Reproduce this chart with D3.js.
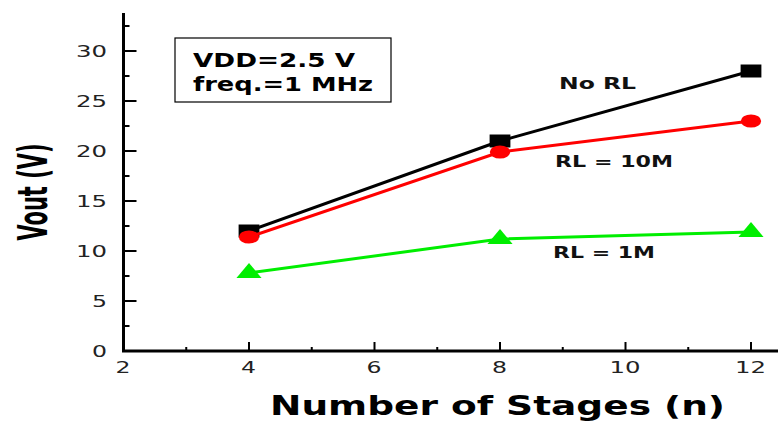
<!DOCTYPE html>
<html>
<head>
<meta charset="utf-8">
<script src="https://cdn.jsdelivr.net/npm/d3@7"></script>
<style>
  body { margin: 0; background: #fff; }
  svg { font-family: "DejaVu Sans", "Liberation Sans", sans-serif; }
</style>
</head>
<body>
<div id="chart"></div>
<script>
// data
const stages = [4, 8, 12];
const noRL = [12.0, 21.0, 28.0];
const rl10M = [11.4, 19.9, 23.0];
const rl1M = [7.8, 11.2, 11.9];
const xTicks = [2, 4, 6, 8, 10, 12];
const yTicks = [0, 5, 10, 15, 20, 25, 30];
const infoLines = ["VDD=2.5 V", "freq.=1 MHz"];

const width = 778, height = 421;
const svg = d3.select("#chart").append("svg")
    .attr("width", width).attr("height", height);

const x = d3.scaleLinear().domain([2, 12]).range([123.5, 751]);
const y = d3.scaleLinear().domain([0, 30]).range([351, 51]);

// the picture is stretched sideways, so text and marks get a wide x scale
const stretch = 1.6;

// axes
const axisG = svg.append("g");
axisG.append("line").attr("x1", x(2) - 1.5).attr("x2", 778)
    .attr("y1", y(0)).attr("y2", y(0))
    .attr("stroke", "#000").attr("stroke-width", 3);
axisG.append("line").attr("x1", x(2)).attr("x2", x(2))
    .attr("y1", y(0)).attr("y2", 13)
    .attr("stroke", "#000").attr("stroke-width", 3);

// ticks point inward
d3.range(2.5, 33, 2.5).forEach(v => {
    const major = v % 5 === 0;
    axisG.append("line").attr("x1", x(2)).attr("x2", x(2) + (major ? 13 : 6))
        .attr("y1", y(v)).attr("y2", y(v))
        .attr("stroke", "#000").attr("stroke-width", 2);
});
d3.range(3, 13, 1).forEach(v => {
    const major = v % 2 === 0;
    axisG.append("line").attr("x1", x(v)).attr("x2", x(v))
        .attr("y1", y(0)).attr("y2", y(0) - (major ? 9 : 4))
        .attr("stroke", "#000").attr("stroke-width", 2);
});

const digitW = 16;
axisG.selectAll(".ylab").data(yTicks).enter().append("text")
    .attr("x", d => 108 - String(d).length * digitW).attr("y", d => y(d) + 6)
    .attr("font-size", 15).attr("fill", "#222")
    .attr("textLength", d => String(d).length * digitW - 1)
    .attr("lengthAdjust", "spacingAndGlyphs")
    .text(d => d);
axisG.selectAll(".xlab").data(xTicks).enter().append("text")
    .attr("x", d => x(d) - String(d).length * digitW / 2).attr("y", 373)
    .attr("font-size", 15).attr("fill", "#222")
    .attr("textLength", d => String(d).length * digitW - 1)
    .attr("lengthAdjust", "spacingAndGlyphs")
    .text(d => d);

// axis titles
svg.append("text")
    .attr("transform", "translate(47,192) scale(" + stretch + ",1) rotate(-90)")
    .attr("text-anchor", "middle").attr("font-size", 26).attr("font-weight", "bold")
    .attr("textLength", 97).attr("lengthAdjust", "spacingAndGlyphs")
    .text("Vout (V)");
svg.append("text")
    .attr("x", 270).attr("y", 415)
    .attr("font-size", 26).attr("font-weight", "bold")
    .attr("textLength", 455).attr("lengthAdjust", "spacingAndGlyphs")
    .text("Number of Stages (n)");

// info box
svg.append("rect").attr("x", 175).attr("y", 38).attr("width", 216).attr("height", 64)
    .attr("fill", "#fff").attr("stroke", "#000").attr("stroke-width", 1.2);
const infoLen = [162, 180];
svg.selectAll(".info").data(infoLines).enter().append("text")
    .attr("x", 193).attr("y", (d, i) => 67 + i * 24)
    .attr("font-size", 20).attr("font-weight", "bold")
    .attr("textLength", (d, i) => infoLen[i]).attr("lengthAdjust", "spacingAndGlyphs")
    .text(d => d);

// series
const series = [
    { name: "No RL", values: noRL, color: "#000", shape: d3.symbolSquare, size: 169, sx: 1.6 },
    { name: "RL = 10M", values: rl10M, color: "#ff0000", shape: d3.symbolCircle, size: 135, sx: 1.55 },
    { name: "RL = 1M", values: rl1M, color: "#00ee00", shape: d3.symbolTriangle, size: 130, sx: 1.45 }
];
const line = d3.line().x((d, i) => x(stages[i])).y(d => y(d));

series.forEach(s => {
    svg.append("path").datum(s.values)
        .attr("d", line).attr("fill", "none")
        .attr("stroke", s.color).attr("stroke-width", 3);
    svg.selectAll(null).data(s.values).enter().append("path")
        .attr("transform", (d, i) => "translate(" + x(stages[i]) + "," + y(d) + ") scale(" + s.sx + ",1)")
        .attr("d", d3.symbol().type(s.shape).size(s.size))
        .attr("fill", s.color);
});

// series labels
const seriesLabels = [
    { text: "No RL", x: 559, y: 89, len: 77 },
    { text: "RL = 10M", x: 555, y: 167, len: 118 },
    { text: "RL = 1M", x: 553, y: 258, len: 102 }
];
svg.selectAll(".slab").data(seriesLabels).enter().append("text")
    .attr("x", d => d.x).attr("y", d => d.y)
    .attr("font-size", 16).attr("font-weight", "bold").attr("fill", "#111")
    .attr("textLength", d => d.len).attr("lengthAdjust", "spacingAndGlyphs")
    .text(d => d.text);
</script>
</body>
</html>
